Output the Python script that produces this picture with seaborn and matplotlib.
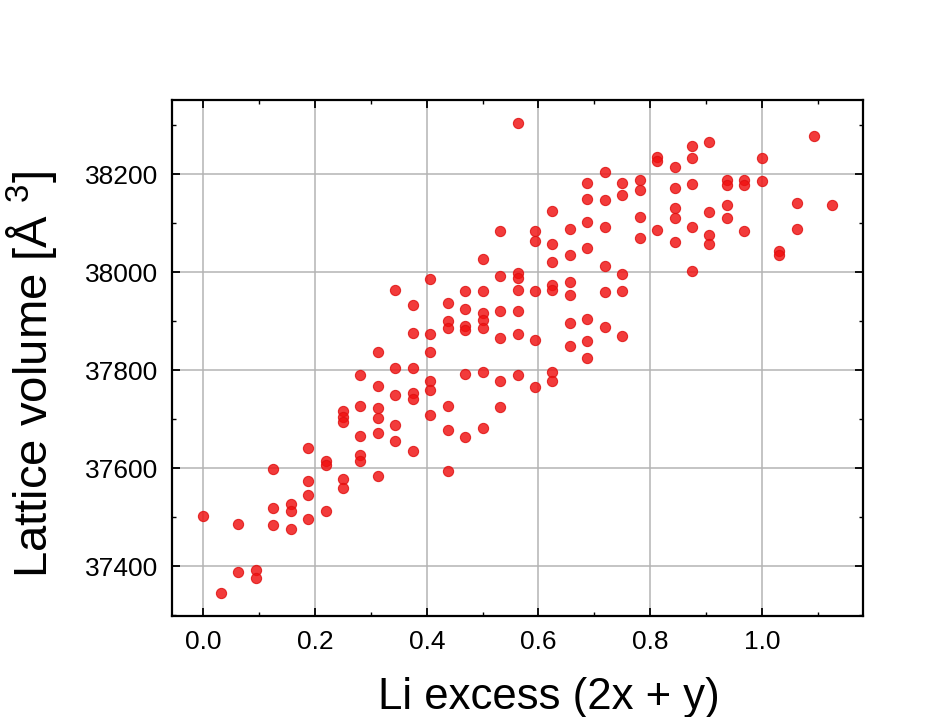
import numpy as np
import pandas as pd
import matplotlib
matplotlib.use("Agg")
import matplotlib.pyplot as plt
from matplotlib.ticker import MultipleLocator
import seaborn as sns

# Li excess is sampled on a 1/32 grid; each column lists the lattice volumes measured there
li_steps = [0, 1, 2, 3, 4, 5, 6, 7, 8, 9, 10, 11, 12, 13, 14, 15, 16, 17, 18,
            19, 20, 21, 22, 23, 24, 25, 26, 27, 28, 29, 30, 31, 32, 33, 34, 35, 36]
volumes = [
    [37503],
    [37346],
    [37485, 37387],
    [37392, 37375],
    [37599, 37518, 37484],
    [37526, 37512, 37476],
    [37640, 37573, 37546, 37497],
    [37614, 37606, 37512],
    [37716, 37705, 37694, 37577, 37560],
    [37789, 37726, 37665, 37626, 37614],
    [37836, 37767, 37723, 37703, 37672, 37583],
    [37963, 37804, 37749, 37687, 37656],
    [37932, 37875, 37804, 37754, 37740, 37634],
    [37985, 37873, 37837, 37777, 37760, 37708],
    [37937, 37900, 37886, 37726, 37677, 37595],
    [37961, 37925, 37889, 37882, 37791, 37664],
    [38027, 37961, 37916, 37902, 37886, 37796, 37681],
    [38084, 37991, 37921, 37865, 37777, 37725],
    [38304, 37999, 37988, 37964, 37921, 37874, 37790],
    [38083, 38064, 37961, 37862, 37766],
    [38124, 38057, 38020, 37974, 37964, 37796, 37777],
    [38088, 38035, 37979, 37954, 37896, 37849],
    [38182, 38149, 38102, 38049, 37905, 37859, 37825],
    [38205, 38148, 38091, 38012, 37960, 37888],
    [38182, 38158, 37996, 37961, 37869],
    [38188, 38168, 38112, 38070],
    [38235, 38226, 38085],
    [38214, 38171, 38130, 38110, 38061],
    [38258, 38233, 38180, 38093, 38003],
    [38265, 38123, 38075, 38057],
    [38188, 38178, 38137, 38110],
    [38188, 38178, 38083],
    [38233, 38186],
    [38044, 38035],
    [38141, 38088],
    [38277],
    [38137],
]

x_ticks = [0.0, 0.2, 0.4, 0.6, 0.8, 1.0]
y_ticks = [37400, 37600, 37800, 38000, 38200]

rows = [(k / 32.0, v) for k, col in zip(li_steps, volumes) for v in col]
df = pd.DataFrame(rows, columns=["li_excess", "volume"])

sns.set_style("white")
plt.rcParams["font.family"] = ["Liberation Sans", "DejaVu Sans"]
plt.rcParams["mathtext.default"] = "regular"
plt.rcParams["text.color"] = "black"
plt.rcParams["axes.labelcolor"] = "black"

fig = plt.figure(figsize=(9.41, 7.17), dpi=100)
ax = fig.add_axes([0.1828, 0.1409, 0.7343, 0.7201])

sns.scatterplot(data=df, x="li_excess", y="volume", ax=ax,
                color="#f01010", alpha=0.82, s=54, edgecolor="#e01010",
                linewidth=0.8, zorder=3)

ax.set_xticks(x_ticks)
ax.set_xticklabels([f"{t:.1f}" for t in x_ticks])
ax.set_yticks(y_ticks)
ax.set_yticklabels([str(t) for t in y_ticks])
ax.xaxis.set_minor_locator(MultipleLocator(0.1))
ax.yaxis.set_minor_locator(MultipleLocator(100))

ax.grid(True, which="major", color="#b4b4b4", linewidth=1.1, zorder=0)
ax.set_axisbelow(True)
ax.tick_params(which="both", direction="in", top=True, right=True,
               bottom=True, left=True, colors="black", labelcolor="black")
ax.tick_params(which="major", length=6, width=1.3, labelsize=19, pad=10)
ax.tick_params(which="minor", length=3, width=1.0)
for sp in ax.spines.values():
    sp.set_color("black")
    sp.set_linewidth(1.6)

ax.set_xlabel("Li excess (2x + y)", fontsize=31.5, color="black")
ax.set_ylabel("Lattice volume [Å $^{3}$]", fontsize=34, color="black")
ax.xaxis.set_label_coords(0.545, -0.118)
ax.yaxis.set_label_coords(-0.163, 0.468)

fig.savefig("out.png", dpi=100, facecolor="white")
